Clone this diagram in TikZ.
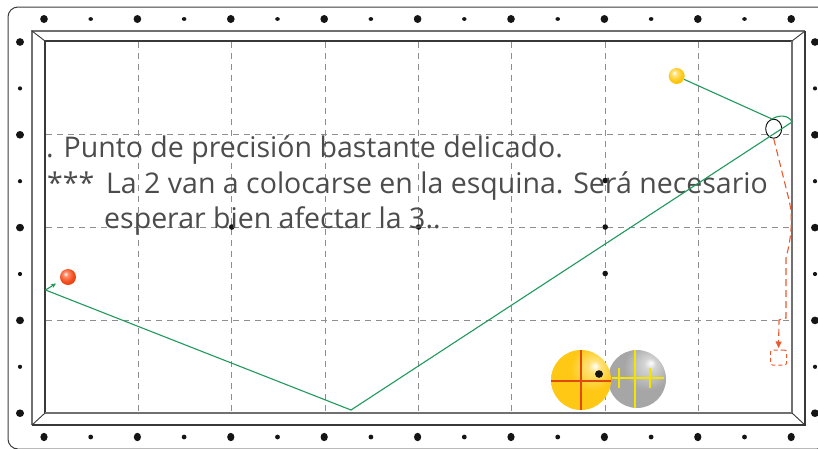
\documentclass[tikz,border=0pt]{standalone}
\usepackage{fontspec}
\setmainfont{Open Sans}
\usetikzlibrary{arrows.meta,shapes.geometric}

\definecolor{framec}{HTML}{3C3C3C}
\definecolor{raildark}{HTML}{383838}
\definecolor{railgray}{HTML}{707070}
\definecolor{gridgray}{HTML}{8E8E8E}
\definecolor{dotc}{HTML}{151515}
\definecolor{pathgreen}{HTML}{1F9A5C}
\definecolor{pathorange}{HTML}{EA5A2E}
\definecolor{txtgray}{HTML}{4C4C4C}
\definecolor{crossred}{HTML}{E04A10}
\definecolor{crossyellow}{HTML}{F4E400}

% ball shadings
\definecolor{yA}{HTML}{FFE27A}
\definecolor{yB}{HTML}{FFC814}
\definecolor{yC}{HTML}{F2B000}
\definecolor{gA}{HTML}{D4D4D4}
\definecolor{gB}{HTML}{A6A6A6}
\definecolor{gC}{HTML}{888888}
\definecolor{rA}{HTML}{FF8A66}
\definecolor{rB}{HTML}{F24C1C}
\definecolor{rC}{HTML}{C83000}
\pgfdeclareradialshading{bigyellow}{\pgfqpoint{12bp}{12bp}}{%
  color(0bp)=(white); color(5bp)=(yA); color(18bp)=(yB); color(45bp)=(yB); color(70bp)=(yC)}
\pgfdeclareradialshading{biggray}{\pgfqpoint{12bp}{14bp}}{%
  color(0bp)=(white); color(5bp)=(gA); color(20bp)=(gB); color(48bp)=(gB); color(70bp)=(gC)}
\pgfdeclareradialshading{smallyellow}{\pgfqpoint{-8bp}{10bp}}{%
  color(0bp)=(white); color(8bp)=(yA); color(22bp)=(yB); color(50bp)=(yC); color(70bp)=(yC)}
\pgfdeclareradialshading{smallred}{\pgfqpoint{-8bp}{10bp}}{%
  color(0bp)=(white); color(8bp)=(rA); color(22bp)=(rB); color(50bp)=(rC); color(70bp)=(rC)}

\tikzset{
  gridline/.style={gridgray, line width=0.9pt, dash pattern=on 6pt off 5pt},
  greenpath/.style={pathgreen, line width=1.1pt},
  orangepath/.style={pathorange, line width=1.1pt, dash pattern=on 7pt off 4pt},
  txt/.style={anchor=base west, inner sep=0pt, text=txtgray,
    font=\fontsize{28.5}{30}\selectfont},
  ballnode/.style={circle, inner sep=0pt},
  crossline/.style={line width=1.2pt},
}

\begin{document}
\begin{tikzpicture}[x=1pt,y=-1pt]
\useasboundingbox (0,0) rectangle (818,448);
\fill[white] (0,0) rectangle (818,448);

% outer wooden frame
\draw[framec, line width=1pt, rounded corners=10pt] (8,7) rectangle (827,449);

% diamonds on the frame
\foreach \k in {0,2,...,16} {
  \fill[dotc] ({44+46.7*\k},19) ellipse (3.8 and 4.0);
  \fill[dotc] ({44+46.7*\k},437) ellipse (3.6 and 4.2);
}
\foreach \k in {1,3,...,15} {
  \fill[dotc] ({44+46.7*\k},19) ellipse (2.3 and 1.9);
  \fill[dotc] ({44+46.7*\k},437) circle (2.4);
}
\foreach \k in {0,2,...,8} {
  \fill[dotc] (20,{42+46.4*\k}) ellipse (4.0 and 3.8);
  \fill[dotc] (815,{42+46.4*\k}) ellipse (4.0 and 3.8);
}
\foreach \k in {1,3,...,7} {
  \fill[dotc] (20,{42+46.4*\k}) circle (2.1);
  \fill[dotc] (815,{42+46.4*\k}) circle (2.1);
}

% cushions
\draw[railgray, line width=1.3pt] (32,425) -- (32,31) -- (805,31);
\draw[raildark, line width=2pt] (805,31) -- (805,425) -- (32,425);
\draw[raildark, line width=1.4pt] (45,413) -- (45,41) -- (792,41);
\draw[railgray, line width=2pt] (792,41) -- (792,413) -- (45,413);
\draw[raildark, line width=0.9pt] (32,31) -- (45,41);
\draw[raildark, line width=0.9pt] (805,31) -- (792,41);
\draw[raildark, line width=0.9pt] (32,425) -- (45,413);
\draw[raildark, line width=0.9pt] (805,425) -- (792,413);

% playing grid
\foreach \k in {1,...,7}
  \draw[gridline] ({45+93.375*\k},42) -- ({45+93.375*\k},412);
\foreach \k in {1,2,3}
  \draw[gridline] (46,{41+93*\k}) -- (791,{41+93*\k});

% table spots
\foreach \p in {(231.8,227),(418.6,227),(605.2,227),(605.2,180.5),(605.2,273.5)}
  \fill[dotc] \p circle (2.8);

% comment text
\node[txt] (t1) at (46,157) {. Punto de precisión bastante delicado.};
\node[txt] (t2a) at (47,193) {***};
\node[txt] (t2b) at (106,193) {La 2 van a colocarse en la esquina. Será necesario};
\node[txt] (t3) at (104,228) {esperar bien afectar la 3..};

% balls and ghost positions
\node[ballnode, minimum size=16pt, shading=smallyellow] (cue) at (676.7,76) {};
\node[ballnode, minimum size=16pt, shading=smallred] (red) at (68,277) {};
\node[ellipse, draw=black, fill=white, line width=0.9pt, minimum width=16pt,
      minimum height=19pt, inner sep=0pt] (gb) at (773.7,128.7) {};
\node[draw=pathorange, line width=1pt, dash pattern=on 4pt off 3pt,
      rounded corners=2pt, minimum width=16pt, minimum height=15pt,
      inner sep=0pt] (tgt) at (778.5,357.5) {};

% cue ball path
\coordinate (hit) at (772,119);
\coordinate (cush1) at (792,122);
\coordinate (cush2) at (351,410);
\coordinate (cush3) at (45.5,290);
\coordinate (gend) at (56,283.5);
\draw[greenpath] (cue) -- (hit) .. controls (779,114.5) and (789,115) .. (cush1)
  -- (cush2) -- (cush3);
\draw[greenpath, -{Stealth[length=5pt,width=4.5pt]}] (cush3) -- (gend);

% object ball path
\draw[orangepath, -{Triangle[length=6.5pt,width=6pt]}, shorten >=1.5pt]
  (gb.south) -- (789,200) .. controls (792,212) and (793,232) .. (786,258)
  -- (786,318) -- (779,320) -- (tgt.north);

% large ball diagrams
\node[ballnode, minimum size=58pt, shading=biggray] (gr) at (637,379) {};
\node[ballnode, minimum size=60pt, shading=bigyellow] (yb) at (581,380) {};
\draw[crossred, crossline] (581,350) -- (581,410);
\draw[crossred, crossline] (551,381) -- (611,381);
\fill[dotc] (599,374) ellipse (4 and 3.8);
\draw[crossyellow, crossline] (635,350) -- (635,408);
\draw[crossyellow, crossline] (612,378) -- (664,378);
\draw[crossyellow, crossline] (619,368) -- (619,388);
\draw[crossyellow, crossline] (650,368) -- (650,388);
\end{tikzpicture}
\end{document}
